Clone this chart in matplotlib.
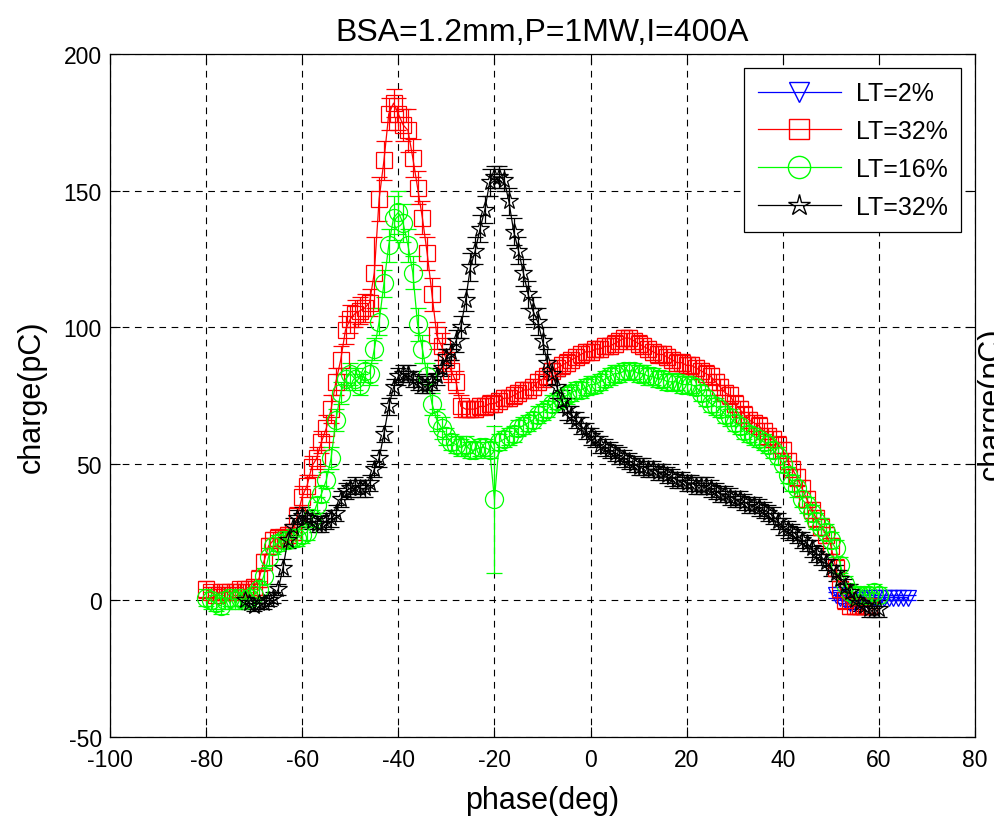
import numpy as np
import matplotlib
matplotlib.use("Agg")
import matplotlib.pyplot as plt
from matplotlib.lines import Line2D

plt.rcParams['font.family'] = ['Liberation Sans', 'DejaVu Sans']
plt.rcParams['axes.unicode_minus'] = False

# ---- data ----
x_blue = [51, 52, 53, 54, 55, 56, 57, 58, 59, 60, 61, 62, 63, 64, 65, 66]
y_blue = [2, 1, 0, -1, -1, 0, 0, 1, 1, 1, 1, 1, 1, 1, 1, 1]
e_blue = [1, 1, 1, 1, 1, 1, 1, 1, 1, 1, 1, 1, 1, 1, 1, 1]

x_red = list(range(-80, 59))
y_red = [4, 3, 2, 3, 3, 3, 3, 4, 4, 4,
         5, 8, 14, 20, 22, 23, 23, 24, 25, 31,
         38, 42, 49, 52, 58, 63, 70, 80, 88, 99,
         103, 105, 106, 107, 109, 120, 147, 161, 178, 182,
         178, 174, 172, 162, 151, 140, 127, 112, 97, 93,
         88, 84, 80, 71, 70, 70, 70, 71, 71, 72,
         72, 73, 74, 74, 75, 76, 77, 77, 78, 80,
         81, 82, 84, 85, 86, 87, 88, 89, 90, 91,
         91, 92, 92, 93, 93, 94, 95, 96, 96, 95,
         94, 93, 92, 91, 90, 90, 89, 88, 87, 87,
         86, 86, 85, 84, 83, 82, 80, 78, 76, 75,
         72, 70, 68, 66, 65, 64, 62, 60, 59, 57,
         55, 51, 48, 45, 41, 37, 33, 30, 27, 24,
         20, 12, 4, 0, -2, -2, -2, -2, -2]
e_red = [3, 2, 2, 2, 2, 2, 2, 2, 2, 2,
         3, 3, 3, 3, 3, 3, 3, 3, 3, 3,
         4, 4, 4, 4, 4, 5, 5, 5, 5, 5,
         5, 5, 5, 5, 5, 13, 8, 7, 6, 5,
         6, 6, 8, 7, 6, 6, 6, 6, 5, 5,
         4, 4, 4, 4, 3, 3, 3, 3, 3, 3,
         3, 3, 3, 3, 3, 3, 3, 3, 3, 3,
         3, 3, 3, 3, 3, 3, 3, 3, 3, 3,
         3, 3, 3, 3, 3, 3, 3, 3, 3, 3,
         3, 3, 3, 3, 3, 3, 3, 3, 3, 3,
         3, 3, 3, 3, 3, 3, 3, 3, 3, 3,
         3, 3, 3, 3, 3, 3, 3, 3, 3, 3,
         3, 3, 3, 3, 3, 3, 3, 3, 3, 3,
         3, 3, 3, 3, 3, 3, 3, 3, 3]

x_green = list(range(-80, 61))
y_green = [1, 0, -1, -2, 0, 1, 0, 1, 0, 1,
           2, 4, 9, 16, 20, 21, 22, 22, 23, 23,
           24, 25, 30, 35, 39, 44, 52, 66, 76, 81,
           83, 81, 79, 84, 83, 92, 102, 116, 130, 140,
           142, 138, 130, 120, 101, 92, 82, 72, 66, 63,
           60, 58, 57, 56, 57, 55, 55, 56, 56, 55,
           37, 58, 59, 60, 61, 63, 64, 65, 66, 68,
           69, 70, 72, 73, 74, 75, 76, 77, 77, 78,
           79, 79, 80, 81, 82, 83, 83, 84, 84, 84,
           83, 83, 82, 82, 81, 81, 80, 80, 80, 79,
           79, 79, 78, 76, 74, 72, 71, 70, 68, 67,
           65, 64, 62, 61, 60, 59, 58, 57, 55, 53,
           50, 46, 43, 41, 37, 35, 32, 29, 27, 25,
           22, 19, 13, 6, 3, 2, 2, 2, 2, 3,
           2]
e_green = [3, 3, 3, 3, 3, 3, 3, 3, 3, 3,
           3, 3, 3, 3, 3, 3, 3, 3, 3, 3,
           3, 3, 3, 3, 3, 3, 4, 4, 4, 4,
           4, 4, 4, 4, 4, 4, 5, 5, 6, 8,
           8, 7, 6, 6, 6, 5, 5, 4, 4, 4,
           3, 3, 3, 3, 3, 3, 3, 3, 3, 3,
           27, 3, 3, 3, 3, 3, 3, 3, 3, 3,
           3, 3, 3, 3, 3, 3, 3, 3, 3, 3,
           3, 3, 3, 3, 3, 3, 3, 3, 3, 3,
           3, 3, 3, 3, 3, 3, 3, 3, 3, 3,
           3, 3, 3, 3, 3, 3, 3, 3, 3, 3,
           3, 3, 3, 3, 3, 3, 3, 3, 3, 3,
           3, 3, 3, 3, 3, 3, 3, 3, 3, 3,
           3, 3, 3, 3, 3, 3, 3, 3, 3, 3,
           3]

x_black = list(range(-72, 61))
y_black = [0, -1, -2, -1, -1, 0, 1, 4, 12, 22,
           27, 30, 31, 30, 29, 28, 28, 29, 30, 32,
           37, 40, 41, 42, 41, 41, 43, 48, 52, 61,
           71, 78, 82, 83, 83, 81, 80, 79, 79, 80,
           82, 85, 89, 91, 95, 100, 110, 122, 128, 136,
           143, 153, 155, 155, 154, 146, 135, 128, 120, 112,
           106, 102, 95, 87, 83, 78, 73, 70, 68, 66,
           64, 62, 60, 59, 57, 56, 55, 54, 53, 52,
           51, 50, 49, 49, 48, 48, 47, 47, 46, 45,
           44, 44, 43, 43, 42, 42, 42, 41, 40, 39,
           39, 38, 37, 37, 36, 35, 35, 34, 33, 32,
           31, 29, 27, 26, 25, 24, 22, 21, 19, 17,
           16, 14, 12, 10, 8, 5, 3, 0, -1, -2,
           -3, -3, -3]
e_black = [2, 2, 2, 2, 2, 2, 2, 2, 3, 3,
           3, 3, 3, 3, 3, 3, 3, 3, 3, 3,
           3, 3, 3, 3, 3, 3, 3, 3, 3, 3,
           3, 3, 3, 3, 3, 3, 3, 3, 3, 3,
           3, 3, 3, 3, 4, 4, 4, 5, 5, 5,
           5, 5, 4, 4, 4, 5, 5, 5, 5, 5,
           5, 5, 5, 5, 4, 4, 4, 4, 3, 3,
           3, 3, 3, 3, 3, 3, 3, 3, 3, 3,
           3, 3, 3, 3, 3, 3, 3, 3, 3, 3,
           3, 3, 3, 3, 3, 3, 3, 3, 3, 3,
           3, 3, 3, 3, 3, 3, 3, 3, 3, 3,
           3, 3, 3, 3, 3, 3, 3, 3, 3, 3,
           3, 3, 3, 3, 3, 3, 3, 3, 3, 3,
           3, 3, 3]

labels = ['LT=2%', 'LT=32%', 'LT=16%', 'LT=32%']
colors = ['#0000ff', '#ff0000', '#00ff00', '#000000']
markers = ['v', 's', 'o', '*']
msizes = [12, 12, 13, 13]

series = [(x_blue, y_blue, e_blue), (x_red, y_red, e_red),
          (x_green, y_green, e_green), (x_black, y_black, e_black)]

fig = plt.figure(figsize=(9.94, 8.2), dpi=100)
ax = fig.add_axes([0.1107, 0.1, 0.8702, 0.833])

for (xs, ys, es), c, m, ms in zip(series, colors, markers, msizes):
    ax.errorbar(xs, ys, yerr=es, fmt='-', color=c, lw=0.9, elinewidth=0.9,
                capsize=6, capthick=0.9, marker=m, ms=ms, mfc='none',
                mec=c, mew=0.9)

ax.set_xlim(-100, 80)
ax.set_ylim(-50, 200)
ax.set_xticks(np.arange(-100, 81, 20))
ax.set_yticks(np.arange(-50, 201, 50))
ax.grid(True, color='black', linestyle=(0, (6, 5)), lw=0.8)
ax.tick_params(direction='in', length=7, top=True, right=True, labelsize=16.5)
ax.tick_params(axis='x', pad=8)
ax.tick_params(axis='y', pad=6)
for sp in ax.spines.values():
    sp.set_linewidth(0.9)

ax.set_title('BSA=1.2mm,P=1MW,I=400A', fontsize=23, pad=10)
ax.set_xlabel('phase(deg)', fontsize=22, labelpad=10)
ax.set_ylabel('charge(pC)', fontsize=22, labelpad=12)
fig.text(977 / 994, 1 - 404 / 820, 'charge(pC)', rotation=90, fontsize=22,
         ha='left', va='center')

handles = [Line2D([], [], color=c, lw=0.9, marker=m, ms=ms + 3, mfc='none', mec=c)
           for c, m, ms in zip(colors, markers, msizes)]
leg = ax.legend(handles, labels, loc='upper right', fontsize=18,
                fancybox=False, edgecolor='black', framealpha=1,
                borderaxespad=0.55, borderpad=0.55, handlelength=3.3,
                labelspacing=0.55, handletextpad=0.6)
leg.get_frame().set_linewidth(0.9)

fig.savefig('out.png', dpi=100)
